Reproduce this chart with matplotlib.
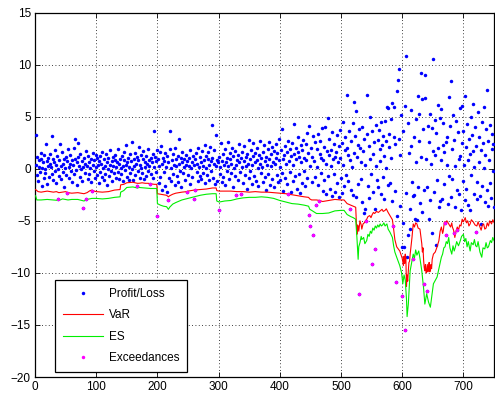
import matplotlib
matplotlib.use("Agg")
import matplotlib.pyplot as plt
import numpy as np

plt.rcParams['font.family'] = ['Liberation Sans', 'DejaVu Sans']

# daily profit / loss, days 1..750 (10 per row)
pl = [
    3.2, 0.4, -0.6, 1.1, -1.2, 0.8, 0.2, -0.3, 1.5, 0.9,        # 1
    -1.7, 0.1, 0.6, -0.9, 1.3, 0.0, -0.4, 2.4, 0.7, -1.5,       # 11
    1.0, 0.3, -0.8, 0.5, 1.4, 0.2, 3.1, -0.5, 0.9, -1.1,        # 21
    0.6, 1.8, -0.2, 0.4, -1.4, 1.2, 0.0, -2.95, 0.8, -0.7,      # 31
    2.4, 0.3, -1.0, 1.6, 0.5, -0.3, 0.9, -1.8, 0.1, 1.1,        # 41
    -0.6, 0.7, -2.3, 1.9, 0.2, -0.9, 0.5, 1.3, -0.2, 0.8,       # 51
    -1.3, 0.4, 2.0, -0.5, 0.9, 2.9, -0.1, 0.6, -1.6, 1.1,       # 61
    2.5, 0.3, -0.8, 1.4, 0.0, -1.2, 0.7, 0.2, -3.73, 1.0,       # 71
    -0.4, 0.5, 1.7, -2.94, 0.3, -1.0, 1.2, 0.6, -0.5, 0.1,      # 81
    0.9, -1.3, -2.1, 0.4, 1.5, -0.2, 0.8, -0.9, 1.3, 0.2,       # 91
    -0.6, 1.0, 0.4, -1.4, 0.7, 1.2, -0.3, 0.5, -0.8, 1.6,       # 101
    0.1, -1.1, 0.9, 0.3, -0.5, 1.4, -1.6, 0.6, 0.0, 1.0,        # 111
    -0.7, 0.4, 1.8, -0.2, 0.7, -1.2, 0.3, 1.1, -0.4, 0.8,       # 121
    1.3, -0.9, 0.2, 0.6, -0.3, 1.9, 0.5, -1.0, 0.9, 0.1,        # 131
    -0.5, 1.2, 0.3, -1.2, 0.8, 1.6, -0.1, 0.4, 2.3, -0.8,       # 141
    0.6, 1.0, -1.1, 0.2, 1.4, -0.4, 0.7, 2.6, 0.0, -1.1,        # 151
    0.9, 0.3, 1.5, -0.6, 0.5, -1.7, 1.1, -0.2, 0.8, 2.1,        # 161
    -0.9, 0.4, 1.3, 0.1, -0.4, 0.9, 1.7, -1.0, 0.6, 0.2,        # 171
    1.2, -0.7, 0.5, 1.9, -0.2, 0.8, 0.3, -1.5, 1.0, -0.5,       # 181
    0.6, 1.4, -0.9, 3.6, 0.2, 1.1, -0.3, 0.7, 1.8, -4.56,       # 191
    0.9, -1.4, 0.3, 1.6, -0.8, 2.2, 0.5, -2.0, 1.0, -0.3,       # 201
    0.7, 1.5, -1.7, 0.2, -2.2, 1.2, -2.96, 0.6, -0.9, 1.9,      # 211
    3.6, 0.1, -1.2, 0.8, 1.4, -0.5, 0.4, 2.0, -1.6, 0.9,        # 221
    0.3, -0.7, 1.2, -1.3, 2.9, 0.5, -0.2, 1.0, -1.8, 0.6,       # 231
    1.6, -0.4, 0.2, 0.9, -1.1, 0.4, 1.3, -2.25, 0.7, -0.6,      # 241
    1.0, 0.3, -1.5, 1.8, 0.1, -0.8, 0.6, 1.2, -2.9, 0.4,        # 251
    -2.08, 0.9, 1.5, -0.3, 0.5, -1.2, 2.0, 0.2, -0.7, 1.1,      # 261
    0.6, -1.0, 1.7, 0.3, -0.4, 0.8, 2.3, -1.4, 0.1, 1.2,        # 271
    -0.6, 0.9, 1.6, -1.1, 0.4, 2.1, 0.7, -0.2, 4.2, 1.0,        # 281
    -0.9, 0.5, 1.8, -1.5, 0.3, 3.2, 0.8, -1.2, 0.6, -3.97,      # 291
    1.1, -0.5, 0.2, 2.5, -1.3, 0.7, 1.4, -0.8, 0.4, 1.9,        # 301
    -1.6, 0.6, 1.0, -0.2, 2.6, 0.3, -1.0, 1.5, 0.9, -0.4,       # 311
    0.5, 2.0, -1.8, 1.2, 0.1, -0.7, 1.7, 0.4, -2.55, 0.8,       # 321
    1.3, -1.1, 0.6, 2.4, -0.3, 1.0, -2.4, 0.2, 1.6, -1.4,       # 331
    0.7, 2.2, -0.6, 1.1, 0.3, -1.9, 1.4, 0.5, 2.8, -0.9,        # 341
    0.9, -0.2, 1.8, -1.5, 0.4, 1.2, 2.5, -0.7, 0.6, 1.5,        # 351
    -1.2, 0.8, 2.0, 0.1, -1.7, 1.3, 0.5, 2.7, -0.4, 1.0,        # 361
    0.2, -1.3, 1.6, 2.3, -0.8, 0.7, 1.1, -2.0, 0.4, 1.9,        # 371
    -0.5, 2.6, 0.9, -1.6, 1.4, 0.3, 2.1, -1.0, 0.6, 1.7,        # 381
    -1.8, 0.5, 2.4, 1.0, -0.6, 1.5, -1.3, 0.8, 2.9, 0.2,        # 391
    -1.1, 1.8, 3.8, -0.4, 0.9, -2.1, 1.3, 2.2, -0.9, 0.5,       # 401
    1.6, -1.5, 2.7, -2.45, 0.7, 1.9, -0.3, 1.2, -2.2, 2.5,      # 411
    0.4, -1.2, 1.4, 4.3, -0.7, 2.0, 0.9, -1.9, 1.6, 3.0,        # 421
    -0.5, 1.1, -2.3, 2.3, 0.6, -1.4, 1.8, 2.8, -0.2, 1.0,       # 431
    -1.7, 2.4, 0.8, 3.4, -0.9, 1.5, 4.1, -4.48, 0.3, -5.49,     # 441
    2.0, -1.3, 1.1, 3.1, -6.39, 0.7, 2.6, -0.8, -3.48, 1.9,     # 451
    0.2, 3.3, -1.6, -3.1, 1.4, 2.7, -0.4, 1.0, 3.9, -2.1,       # 461
    0.8, 2.1, -1.1, 4.0, 0.5, -2.4, 1.7, 4.9, -0.7, 1.3,        # 471
    2.9, -1.9, 0.3, 1.8, -2.6, 3.5, 0.9, -0.5, 2.4, 1.1,        # 481
    -2.2, 1.6, 3.2, -1.4, 0.6, 2.2, -2.7, 1.0, 3.7, -0.9,       # 491
    -2.3, 2.5, 0.4, 4.5, -1.7, 1.8, 3.0, -0.6, 2.0, 7.1,        # 501
    -1.2, 1.3, 3.6, 0.8, -3.9, -2.0, 2.7, 0.2, 4.4, -2.5,       # 511
    1.5, 6.4, 3.1, 5.5, -2.7, 1.1, 2.3, -1.5, 3.8, -12.06,      # 521
    2.0, -1.0, 0.6, 4.0, -3.2, 1.7, -4.3, 2.9, -3.9, 0.4,       # 531
    -4.98, 3.3, 7.1, -1.65, 2.2, -2.8, 0.9, 5.0, -0.5, -9.18,   # 541
    3.6, 1.4, -2.2, 2.6, -3.9, -7.68, 4.2, 0.3, -1.1, 2.8,      # 551
    -1.75, 3.7, 0.7, 1.9, -2.4, 4.5, 2.3, -0.8, 3.1, 1.2,       # 561
    -2.9, 4.6, 0.1, 2.7, 5.9, -1.6, 5.8, 2.1, 3.3, -1.4,        # 571
    4.8, 1.0, -3.1, 6.3, -5.5, 3.0, 5.9, 2.4, -2.1, -10.9,      # 581
    7.5, -4.5, 8.5, 2.9, 9.6, -3.6, 1.3, 5.2, -7.5, -12.18,     # 591
    -5.2, 3.6, -7.5, 6.0, -15.5, 10.8, -2.3, -8.5, 4.4, -6.4,   # 601
    1.5, -3.9, -5.8, 2.2, 5.6, -1.3, -8.7, -2.6, 3.0, -2.5,     # 611
    -4.8, 4.8, 0.6, -4.9, 7.0, -1.8, 2.7, 5.3, -3.3, 9.2,       # 621
    1.1, 6.7, -4.2, 3.8, -2.0, -11.1, 9.0, 6.8, 0.9, -1.8,      # 631
    -11.78, 4.1, -4.85, 2.6, 5.3, -3.0, 0.5, 3.9, -6.2, 1.7,    # 641
    10.5, -2.2, 4.7, 1.3, -7.3, 3.4, -1.1, 6.1, 2.0, -3.7,      # 651
    4.9, -3.1, 0.8, 5.7, -2.9, 2.3, 4.4, -1.5, 1.6, -5.22,      # 661
    2.6, -6.38, 0.4, 3.0, -3.4, 6.9, -0.7, 4.1, 8.4, -2.7,      # 671
    1.9, -1.0, 5.2, -6.2, 2.8, -3.7, 0.3, 4.6, -2.0, -5.9,      # 681
    3.5, 0.9, -2.4, 5.8, 1.2, -4.0, 2.5, 6.0, -1.2, 3.6,        # 691
    0.4, -3.0, 6.95, 2.1, -1.9, 4.3, 0.8, -3.5, 2.9, 1.4,       # 701
    -4.0, 5.0, -0.6, 3.2, 1.7, 6.2, -2.4, 0.2, 4.0, -6.08,      # 711
    2.2, -1.3, -2.9, 5.4, 0.6, 3.0, -2.6, -5.3, 1.8, 4.5,       # 721
    -1.7, 2.5, 0.1, 5.9, -3.2, 1.3, 3.8, -2.0, 7.56, -3.6,      # 731
    2.7, 0.8, -1.4, 4.2, -2.8, 1.9, 3.3, -0.2, 2.4, -3.7,       # 741
]

# value at risk (drawn as a negative level)
var_days = [1, 5, 10, 15, 20, 25, 30, 35, 39, 45, 50, 54, 60, 70, 80, 85, 90, 93, 97,
            100, 110, 120, 130, 139, 140, 145, 150, 160, 167, 170, 175, 180, 185, 189,
            195, 199, 200, 205, 210, 215, 218, 220, 225, 230, 240, 248, 250, 260, 270,
            280, 290, 296, 297, 301, 310, 320, 330, 340, 350, 360, 370, 380, 390, 400,
            410, 415, 420, 430, 440, 447, 449, 452, 460, 465, 470, 480, 490, 500, 505,
            510, 516, 520,
            524, 526, 527, 528, 529, 531, 533, 534, 536, 538,
            540, 542, 544, 547, 549, 551, 553, 555, 558, 561,
            564, 567, 569, 572, 574, 577, 580, 584, 586, 588,
            591, 596, 600, 602, 603, 604, 605, 606, 607, 608,
            609, 610, 611, 612, 613, 616, 618, 620, 622, 624,
            626, 629, 632, 633, 634, 635, 636, 637, 638, 639,
            640, 641, 642, 643, 644, 645, 646, 647, 648, 649,
            651, 654, 657, 660, 662, 664, 666, 667, 669, 671,
            673, 676, 679, 681, 682, 684, 686, 688, 689, 690,
            692, 694, 696, 698, 700, 703, 705, 707, 709, 711,
            713, 716, 719, 722, 724, 727, 729, 731, 733, 735,
            737, 739, 741, 743, 746, 748, 750]
var_vals = [-2.0, -2.2, -2.25, -2.2, -2.15, -2.2, -2.25, -2.2, -2.3, -2.25, -2.2, -2.3,
            -2.35, -2.3, -2.4, -2.3, -2.1, -2.05, -2.15, -2.2, -2.25, -2.2, -2.05, -2.0,
            -1.55, -1.5, -1.35, -1.3, -1.4, -1.4, -1.35, -1.4, -1.4, -1.45, -1.5, -1.5,
            -2.4, -2.45, -2.5, -2.55, -2.7, -2.6, -2.45, -2.35, -2.25, -2.2, -2.15, -2.05,
            -2.0, -1.95, -1.85, -1.85, -2.1, -2.15, -2.15, -2.15, -2.2, -2.2, -2.25, -2.2,
            -2.25, -2.25, -2.3, -2.35, -2.4, -2.45, -2.5, -2.6, -2.7, -2.75, -2.9, -3.0,
            -3.0, -3.05, -3.15, -3.05, -2.95, -3.0, -3.0, -3.35, -3.5, -3.6,
            -3.7, -6.3, -5.4, -5.5, -6.0, -5.0, -5.4, -5.8, -5.3, -5.2,
            -5.0, -4.85, -4.6, -4.5, -4.7, -4.4, -4.2, -4.3, -4.1, -4.2,
            -4.05, -3.9, -4.1, -4.0, -3.85, -4.2, -4.5, -4.9, -5.8, -6.8,
            -7.5, -7.9, -8.6, -9.3, -8.4, -9.1, -8.2, -8.6, -11.3, -10.2,
            -10.8, -9.8, -9.0, -8.9, -8.2, -6.6, -5.3, -5.6, -5.2, -5.3,
            -5.7, -5.8, -7.2, -8.0, -7.6, -8.8, -9.5, -9.8, -9.2, -10.0,
            -9.9, -9.2, -9.9, -9.6, -9.0, -9.9, -9.8, -9.2, -9.6, -8.7,
            -8.2, -8.0, -7.5, -6.9, -6.0, -5.6, -6.2, -6.0, -5.1, -5.2,
            -5.0, -5.3, -5.6, -5.2, -5.6, -5.9, -6.6, -6.0, -5.8, -5.6,
            -5.9, -5.4, -5.5, -4.85, -5.1, -4.7, -5.2, -5.0, -5.5, -5.3,
            -4.9, -5.1, -5.4, -5.5, -5.1, -5.6, -5.9, -5.4, -5.3, -5.8,
            -5.7, -5.2, -5.5, -5.0, -5.3, -4.9, -5.15]

# expected shortfall
es_days = [1, 3, 10, 20, 30, 39, 45, 54, 60, 70, 80, 85, 93, 100, 110, 120, 130, 139,
           140, 145, 150, 160, 167, 170, 180, 189, 199, 200, 205, 210, 215, 218, 220,
           225, 230, 240, 250, 260, 270, 280, 290, 296, 297, 301, 310, 320, 330, 340,
           350, 360, 370, 380, 390, 400, 410, 420, 430, 440, 447, 449, 452, 460, 470,
           480, 490, 500, 505, 510, 516, 520,
           524, 526, 528, 529, 531, 533, 534, 537, 539, 542,
           544, 546, 548, 550, 552, 554, 556, 558, 560, 562,
           564, 566, 568, 570, 572, 575, 577, 580, 584, 586,
           588, 591, 596, 599, 601, 603, 605, 607, 608, 610,
           613, 618, 620, 622, 624, 627, 629, 632, 635, 637,
           640, 643, 646, 651, 657, 660, 662, 664, 666, 668,
           670, 672, 674, 676, 678, 681, 683, 685, 687, 689,
           692, 695, 697, 700, 702, 704, 706, 708, 711, 713,
           716, 718, 720, 722, 724, 727, 730, 732, 735, 737,
           739, 741, 744, 746, 748, 750]
es_vals = [-2.6, -3.0, -3.0, -2.95, -3.0, -3.05, -2.9, -3.0, -2.95, -2.95, -3.1, -2.95,
           -2.85, -2.85, -2.9, -2.85, -2.75, -2.7, -2.25, -2.1, -1.8, -1.75, -1.85, -1.8,
           -1.85, -1.9, -1.9, -3.35, -3.5, -3.6, -3.65, -3.9, -3.7, -3.4, -3.25, -3.0,
           -2.85, -2.7, -2.55, -2.45, -2.4, -2.4, -3.1, -3.2, -3.1, -3.05, -2.9, -2.8,
           -2.75, -2.75, -2.7, -2.75, -2.85, -3.05, -3.2, -3.35, -3.4, -3.5, -3.6, -3.9,
           -4.0, -4.3, -4.3, -4.25, -4.05, -4.0, -4.0, -4.4, -4.6, -4.7,
           -4.85, -6.6, -8.7, -7.5, -7.1, -6.5, -6.8, -6.6, -7.2, -6.9,
           -6.3, -6.5, -6.0, -6.2, -5.7, -5.9, -5.5, -5.7, -5.4, -5.6,
           -5.3, -5.5, -5.4, -5.2, -5.5, -5.3, -5.8, -6.1, -6.6, -7.4,
           -8.0, -8.5, -9.3, -10.0, -11.05, -10.2, -10.7, -12.5, -14.2, -13.0,
           -9.8, -8.2, -8.6, -7.8, -8.3, -7.9, -8.6, -9.8, -11.5, -13.0,
           -12.0, -12.8, -13.3, -11.05, -10.4, -9.6, -9.1, -8.5, -8.2, -7.6,
           -7.5, -7.0, -7.2, -6.6, -7.6, -8.2, -7.4, -7.9, -7.5, -7.0,
           -7.4, -6.9, -6.5, -6.3, -7.0, -6.7, -7.5, -7.0, -7.9, -7.1,
           -7.3, -6.8, -7.4, -7.5, -7.0, -8.0, -8.5, -7.6, -7.7, -7.1,
           -7.6, -7.5, -6.9, -7.1, -6.6, -6.9]

# days where the loss went past VaR
exc_days = [38, 53, 79, 84, 93, 166, 188, 200, 217, 248, 259, 261, 300, 329, 337,
            414, 448, 450, 455, 459, 464, 515, 530, 541, 550, 556, 585, 590, 600, 605,
            617, 636, 641, 670, 672, 684, 690, 720]

assert len(pl) == 750
assert len(var_days) == len(var_vals) and len(es_days) == len(es_vals)

days = np.arange(1, len(pl) + 1)
exc_vals = [pl[d - 1] for d in exc_days]

fig = plt.figure(figsize=(4.95, 3.94), dpi=100)
ax = fig.add_axes([35 / 495, 17 / 394, 459 / 495, 364.5 / 394])

ax.plot(days, pl, 'o', color='#0000ff', ms=2.5, mec='none', label='Profit/Loss', zorder=3)
ax.plot(var_days, var_vals, '-', color='#ff0000', lw=0.8, label='VaR', zorder=4)
ax.plot(es_days, es_vals, '-', color='#00ee00', lw=0.8, label='ES', zorder=4)
ax.plot(exc_days, exc_vals, 'o', color='#ff00ff', ms=2.5, mec='none',
        label='Exceedances', zorder=5)

ax.set_xlim(0, 750)
ax.set_ylim(-20, 15)
ax.set_xticks(np.arange(0, 701, 100))
ax.set_yticks(np.arange(-20, 16, 5))
ax.grid(True, ls=(0, (1, 3)), color='black', lw=0.6)
ax.tick_params(direction='in', top=True, right=True, length=3.5, width=0.6,
               labelsize=8.5, pad=3)
for s in ax.spines.values():
    s.set_linewidth(0.9)

leg = ax.legend(loc='lower left', bbox_to_anchor=(0.044, 0.014), borderaxespad=0,
                fancybox=False, framealpha=1, edgecolor='black', fontsize=8.5,
                handlelength=3.4, labelspacing=0.8, borderpad=0.65, handletextpad=0.5)
leg.get_frame().set_linewidth(0.9)

fig.savefig('out.png', dpi=100)
